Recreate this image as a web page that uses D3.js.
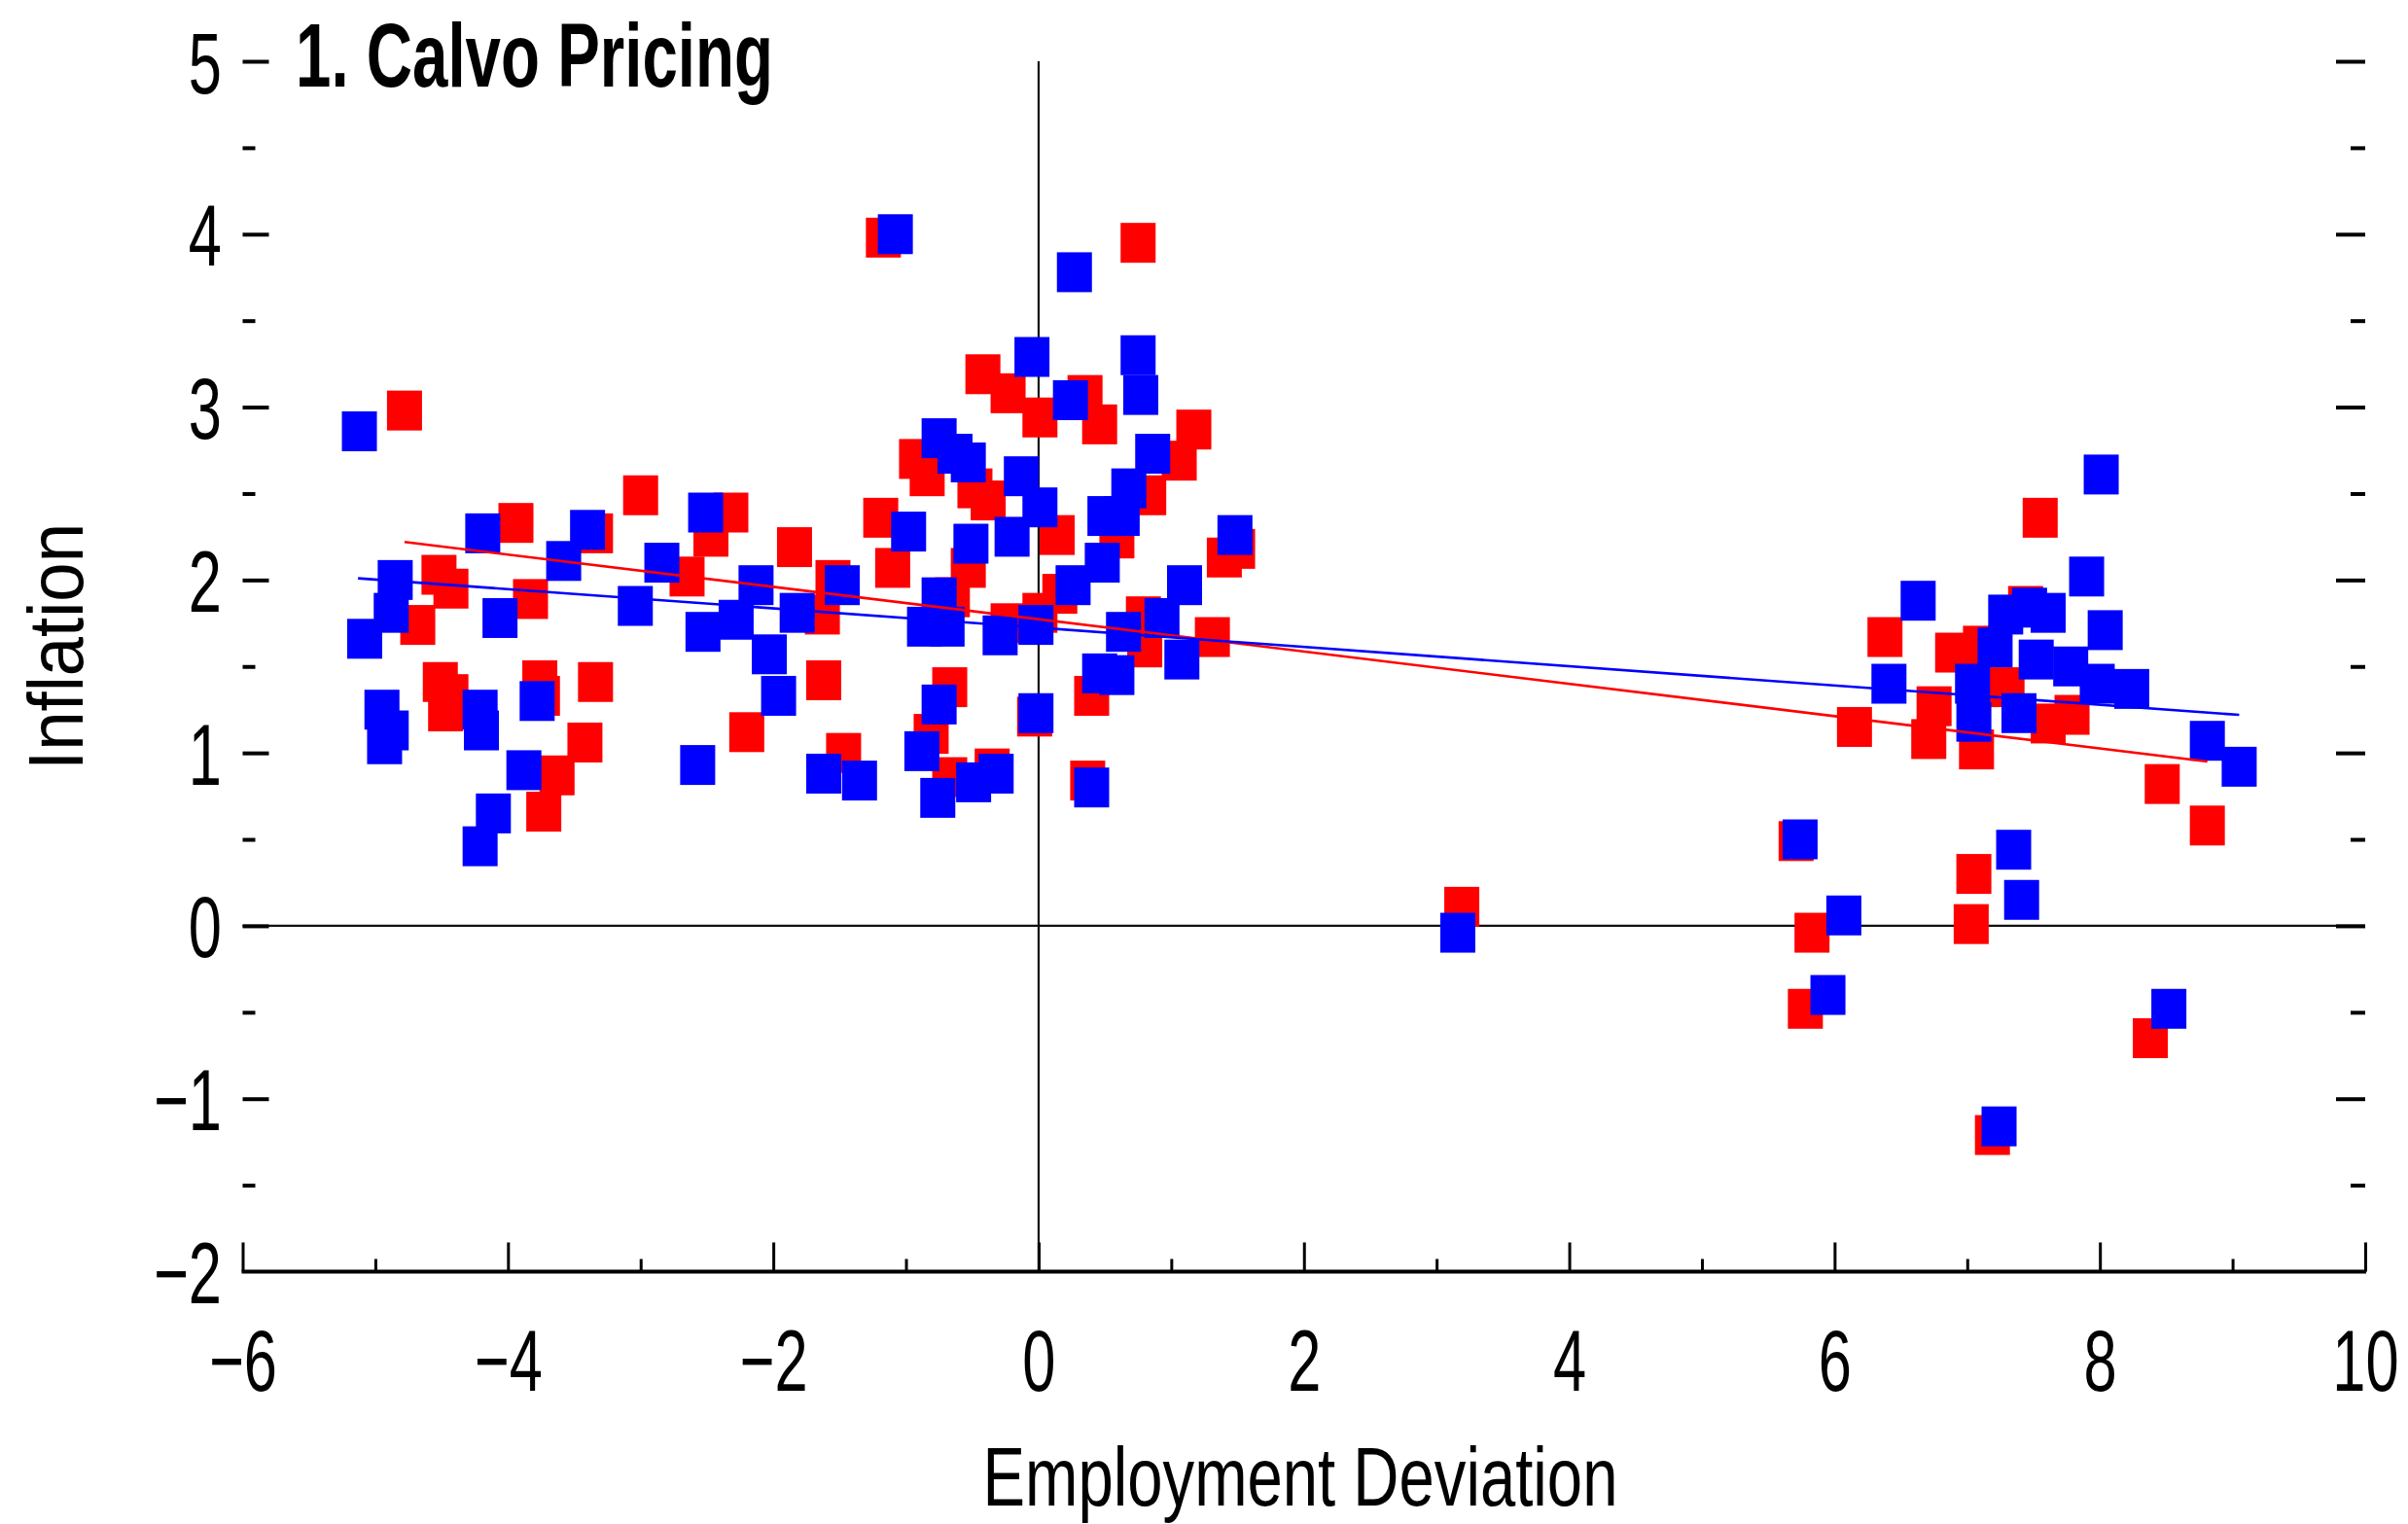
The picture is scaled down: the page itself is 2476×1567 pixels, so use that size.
<!DOCTYPE html>
<html>
<head>
<meta charset="utf-8">
<script src="https://d3js.org/d3.v7.min.js"></script>
<style>
  body { margin: 0; background: #fff; }
  text { font-family: "Liberation Sans", Arial, sans-serif; fill: #000; }
</style>
</head>
<body>
<svg id="chart"></svg>
<script>

// red series (employment deviation, inflation)
var redX = [-4.78, -4.52, -4.43, -4.68, -3.94, -3.83, -3.34, -3.00, -2.65, -2.32, -2.47, -1.84,
  -4.51, -4.43, -4.47, -3.76, -3.74, -3.34, -3.42, -3.63, -3.73, -2.20,
  -1.17, 0.75, -0.42, -0.23, 0.01, 0.35, 0.46, 1.17, 1.06, 0.83, 0.59, 0.14, -0.48, -0.38,
  -0.53, -0.92, -0.84, -1.19, -1.10, -1.55, -1.63, -1.62, -0.65, -0.23, 0.01, 0.16, 0.79,
  1.31, 1.40, 1.50, 0.80, 0.40, -0.03, -0.67, -0.81, -1.47, -0.67, -0.35, 0.37,
  3.19,
  7.55, 6.38, 6.15, 6.89, 7.10, 7.44, 6.75, 6.71, 7.07, 7.30, 7.79, 7.61, 8.47, 8.81,
  5.71, 7.05, 7.03, 5.83, 5.78, 8.38, 7.19];
var redY = [2.98, 2.03, 1.95, 1.74, 2.33, 1.89, 2.27, 2.49, 2.02, 2.39, 2.25, 2.19,
  1.41, 1.34, 1.24, 1.42, 1.33, 1.41, 1.06, 0.87, 0.66, 1.12,
  3.98, 3.95, 3.19, 3.08, 2.94, 3.07, 2.90, 2.87, 2.69, 2.49, 2.24, 2.26, 2.53, 2.46,
  2.07, 2.70, 2.60, 2.36, 2.07, 2.00, 1.80, 1.42, 1.90, 1.75, 1.81, 1.92, 1.79,
  1.67, 2.13, 2.18, 1.61, 1.33, 1.21, 1.38, 1.11, 1.00, 0.86, 0.91, 0.84,
  0.11,
  2.36, 1.67, 1.15, 1.58, 1.62, 1.85, 1.27, 1.08, 1.02, 1.38, 1.22, 1.17, 0.82, 0.58,
  0.49, 0.30, 0.01, -0.04, -0.48, -0.65, -1.21];

// blue series
var blueX = [-5.12, -4.85, -4.88, -5.08, -4.19, -4.06, -3.58, -3.40, -2.84, -3.04, -2.51, -2.13,
  -2.28, -2.53, -2.03, -1.82, -4.95, -4.88, -4.93, -4.21, -4.20, -3.78, -3.88, -4.11, -4.21,
  -2.57, -1.96,
  -1.08, 0.27, -0.05, 0.75, 0.77, 0.24, 0.86, 0.68, 0.50, 0.63, 0.48, 0.26, 0.01, -0.13,
  -0.20, -0.51, -0.75, -0.63, -0.53, -0.98, -1.48, -0.86, -0.69, -0.75, -0.29, -0.02, 0.64,
  0.93, 1.10, 1.48, 1.08, 0.46, 0.59, -0.02, -0.75, -0.88, -1.62, -1.35, -0.76, -0.49, -0.32, 0.40,
  3.16,
  8.01, 7.90, 8.04, 6.63, 6.41, 7.29, 7.47, 7.61, 7.21, 7.52, 7.78, 7.98, 8.24, 7.04, 7.05,
  7.39, 8.81, 9.05, 5.74, 7.35, 7.41, 6.07, 5.95, 8.52, 7.24];
var blueY = [2.86, 2.00, 1.81, 1.66, 2.27, 1.78, 2.11, 2.29, 2.10, 1.85, 2.39, 1.97,
  1.77, 1.70, 1.57, 1.81, 1.25, 1.13, 1.05, 1.25, 1.13, 1.30, 0.90, 0.65, 0.46,
  0.93, 1.33,
  4.00, 3.78, 3.29, 3.30, 3.07, 3.04, 2.73, 2.53, 2.37, 2.37, 2.10, 1.97, 2.42, 2.60,
  2.25, 2.21, 2.82, 2.73, 2.68, 2.28, 1.97, 1.73, 1.73, 1.90, 1.68, 1.74, 1.70,
  1.78, 1.97, 2.26, 1.54, 1.46, 1.45, 1.23, 1.28, 1.01, 0.88, 0.84, 0.74, 0.83, 0.88, 0.80,
  -0.04,
  2.61, 2.02, 1.71, 1.88, 1.40, 1.80, 1.84, 1.81, 1.61, 1.54, 1.50, 1.40, 1.37, 1.40, 1.18,
  1.23, 1.07, 0.92, 0.50, 0.44, 0.15, 0.06, -0.40, -0.48, -1.16];

// fitted lines, end points
var redFitX = [-4.78, 8.81];
var redFitY = [2.22, 0.95];
var blueFitX = [-5.13, 9.05];
var blueFitY = [2.01, 1.22];

// ticks
var xTicks = [-6, -4, -2, 0, 2, 4, 6, 8, 10];
var xMinorTicks = [-5, -3, -1, 1, 3, 5, 7, 9];
var yTicks = [-2, -1, 0, 1, 2, 3, 4, 5];
var yMinorTicks = [-1.5, -0.5, 0.5, 1.5, 2.5, 3.5, 4.5];

var margin = {top: 63, right: 44, bottom: 259.5, left: 249.5},
  width = 2476 - margin.left - margin.right,
  height = 1567 - margin.top - margin.bottom;

var svg = d3.select("#chart")
  .attr("width", 2476)
  .attr("height", 1567)
  .append("g")
  .attr("transform", "translate(" + margin.left + "," + margin.top + ")");

var x = d3.scaleLinear().domain([-6, 10]).range([0, width]);
var y = d3.scaleLinear().domain([-2, 5]).range([height, 0]);

var fmt = d3.format("d");

// squeeze a text horizontally to a given width (condensed look)
function fitText(t, w) {
  var len = t.node().getComputedTextLength();
  t.attr("transform", t.attr("transform") + " scale(" + (w / len) + ",1)");
}

function tidy(g, sw) {
  g.select(".domain").remove();
  g.attr("font-size", null).attr("font-family", null);
  g.selectAll("line").attr("stroke", "#000").attr("stroke-width", sw);
}

// zero lines
svg.append("line")
  .attr("x1", x(-6)).attr("x2", x(10))
  .attr("y1", y(0)).attr("y2", y(0))
  .attr("stroke", "#111").attr("stroke-width", 2.2);
svg.append("line")
  .attr("x1", x(0)).attr("x2", x(0))
  .attr("y1", y(-2)).attr("y2", y(5))
  .attr("stroke", "#111").attr("stroke-width", 2.2);

// points
var red = d3.zip(redX, redY);
var blue = d3.zip(blueX, blueY);

svg.selectAll(".red")
  .data(red).enter()
  .append("rect")
  .attr("class", "red")
  .attr("x", d => x(d[0]) - 18)
  .attr("y", d => y(d[1]) - 20.5)
  .attr("width", 36)
  .attr("height", 41)
  .attr("fill", "#ff0000");

svg.selectAll(".blue")
  .data(blue).enter()
  .append("rect")
  .attr("class", "blue")
  .attr("x", d => x(d[0]) - 18)
  .attr("y", d => y(d[1]) - 20.5)
  .attr("width", 36)
  .attr("height", 41)
  .attr("fill", "#0000ff");

// fitted lines
var line = d3.line().x(d => x(d[0])).y(d => y(d[1]));
svg.append("path")
  .attr("d", line(d3.zip(redFitX, redFitY)))
  .attr("fill", "none").attr("stroke", "#ff0000").attr("stroke-width", 2.6);
svg.append("path")
  .attr("d", line(d3.zip(blueFitX, blueFitY)))
  .attr("fill", "none").attr("stroke", "#0000ff").attr("stroke-width", 2.6);

// bottom axis
var xAxis = svg.append("g")
  .attr("transform", "translate(0," + height + ")")
  .call(d3.axisBottom(x).tickValues(xTicks).tickSize(-30).tickFormat(fmt))
  .call(g => tidy(g, 3));
xAxis.selectAll("text")
  .attr("y", null).attr("dy", null)
  .attr("transform", "translate(0,122.5) scale(0.69,1)")
  .style("font-size", "89px");

svg.append("g")
  .attr("transform", "translate(0," + height + ")")
  .call(d3.axisBottom(x).tickValues(xMinorTicks).tickSize(-13).tickFormat(""))
  .call(g => tidy(g, 3));

svg.append("line")
  .attr("x1", x(-6) - 1).attr("x2", x(10) + 1)
  .attr("y1", height).attr("y2", height)
  .attr("stroke", "#000").attr("stroke-width", 4);

// left axis
var yAxis = svg.append("g")
  .call(d3.axisLeft(y).tickValues(yTicks.slice(1)).tickSize(-27).tickFormat(fmt))
  .call(g => tidy(g, 4));
svg.append("g")
  .call(d3.axisLeft(y).tickValues([-2]).tickSize(0).tickFormat(fmt))
  .call(g => tidy(g, 0))
  .selectAll("line").remove();
svg.selectAll("g").filter(function() { return !this.getAttribute("transform"); })
  .selectAll("text")
  .attr("x", 0).attr("dy", null)
  .attr("transform", "translate(-21.5,32) scale(0.69,1)")
  .style("font-size", "89px");

svg.append("g")
  .call(d3.axisLeft(y).tickValues(yMinorTicks).tickSize(-13).tickFormat(""))
  .call(g => tidy(g, 4));

// right axis
svg.append("g")
  .attr("transform", "translate(" + width + ",0)")
  .call(d3.axisRight(y).tickValues(yTicks.slice(1)).tickSize(-30).tickFormat(""))
  .call(g => tidy(g, 4));
svg.append("g")
  .attr("transform", "translate(" + width + ",0)")
  .call(d3.axisRight(y).tickValues(yMinorTicks).tickSize(-15).tickFormat(""))
  .call(g => tidy(g, 4));

// titles
var title = svg.append("text")
  .attr("transform", "translate(54.5,26)")
  .style("font-size", "92px")
  .style("font-weight", 700)
  .text("1. Calvo Pricing");
fitText(title, 491);

var xTitle = svg.append("text")
  .attr("transform", "translate(" + 1087.5 + "," + (height + 240) + ")")
  .attr("text-anchor", "middle")
  .style("font-size", "86px")
  .text("Employment Deviation");
fitText(xTitle, 653);

var yTitle = svg.append("text")
  .attr("transform", "translate(-164.5,602) rotate(-90)")
  .attr("text-anchor", "middle")
  .style("font-size", "80px")
  .text("Inflation");
fitText(yTitle, 254);

</script>
</body>
</html>
